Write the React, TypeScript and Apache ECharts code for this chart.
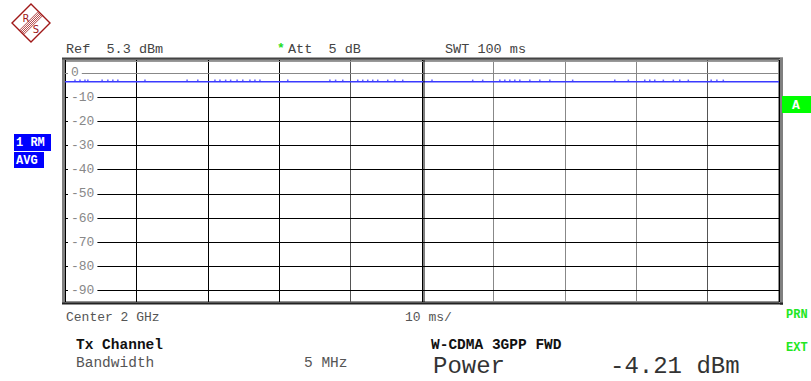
import React, { useEffect, useRef } from "react";
import * as echarts from "echarts";

const timeMs = [0, 10, 20, 30, 40, 50, 60, 70, 80, 90, 100];
const traceDbm = [-3.7, -3.7, -3.7, -3.7, -3.7, -3.7, -3.7, -3.7, -3.7, -3.7, -3.7];
const peakMs = [1.4, 2.1, 2.8, 3.2, 5.2, 6.0, 6.7, 7.4, 11.2, 17.1, 18.6, 21.0, 21.7, 22.5, 23.2, 24.1, 24.9, 25.9, 26.6, 27.3, 31.2, 37.1, 37.9, 38.9, 41.0, 41.7, 42.4, 43.1, 43.8, 45.2, 46.2, 47.3, 51.4, 57.1, 58.5, 60.9, 61.6, 62.3, 63.0, 63.7, 65.1, 66.5, 67.9, 71.1, 77.0, 78.9, 81.2, 81.9, 82.6, 83.8, 85.2, 86.1, 87.3, 90.5, 91.3, 92.2];
const peakDbm = -3.1;
const refLevel = 5.3;
const rangeDb = 100;
const yTicks = [0, -10, -20, -30, -40, -50, -60, -70, -80, -90];

const MONO = "'Liberation Mono', 'DejaVu Sans Mono', monospace";
const LOGO = "#a01818";

export default function App() {
  const ref = useRef<HTMLDivElement>(null);
  useEffect(() => {
    document.body.style.margin = "0";
    const chart = echarts.init(ref.current!, null, { renderer: "svg" });
    const gl = 65, gt = 60, gw = 714, gh = 242;
    const txt = (text: string, x: number, y: number, size: number, fill: string, weight = "normal", va = "middle") => ({
      type: "text",
      x, y,
      z: 20,
      style: { text, fill, font: `${weight} ${size}px ${MONO}`, textVerticalAlign: va },
    });
    const box = (x: number, y: number, w: number, h: number, fill: string) => ({
      type: "rect", z: 20, shape: { x, y, width: w, height: h }, style: { fill },
    });
    // logo stripes: band parallel to the upper-left edge, through the centre
    const stripes = [-3, -1.5, 0, 1.5, 3].map((o) => ({
      type: "line", z: 20,
      shape: { x1: 21.5 + o * 0.707, y1: 32.5 + o * 0.707, x2: 40.5 + o * 0.707, y2: 13.5 + o * 0.707 },
      style: { stroke: LOGO, lineWidth: 0.8 },
    }));
    chart.setOption({
      animation: false,
      backgroundColor: "#fff",
      grid: { left: gl, top: gt, width: gw, height: gh, show: true, borderColor: "#222", borderWidth: 1 },
      xAxis: {
        type: "value", min: 0, max: 100, interval: 10,
        axisLine: { show: false }, axisTick: { show: false }, axisLabel: { show: false },
        splitLine: {
          show: true,
          lineStyle: { width: 1, color: ["#000", "#000", "#000", "#000", "#555", "#000", "#888", "#888", "#888", "#555", "#000"] },
        },
      },
      yAxis: [
        {
          type: "value", min: refLevel - rangeDb, max: refLevel, position: "left", z: 0,
          axisLine: { show: false }, axisTick: { show: false }, axisLabel: { show: false },
          splitLine: { show: false },
        },
        {
          type: "value", min: refLevel - rangeDb, max: refLevel, position: "left", z: 5,
          splitNumber: 10, minInterval: 10, maxInterval: 10,
          axisLine: { show: false }, axisTick: { show: false }, splitLine: { show: false },
          axisLabel: {
            inside: true, margin: 3, showMinLabel: false, showMaxLabel: false, hideOverlap: false,
            color: "#888", fontSize: 13, fontFamily: MONO, backgroundColor: "#fff", padding: [0, 3, 0, 3],
            formatter: (v: number) => (Math.abs(v % 10) < 1e-6 ? String(Math.round(v)) : ""),
          },
        },
      ],
      series: [
        {
          type: "line", yAxisIndex: 0, symbol: "none", z: 1,
          data: [],
          markLine: {
            silent: true, symbol: "none", label: { show: false },
            data: yTicks.map((v) => ({ yAxis: v, lineStyle: { color: v === 0 ? "#888" : "#000", width: 1, type: "solid" } })),
          },
        },
        {
          type: "line", yAxisIndex: 0, symbol: "none", z: 6,
          lineStyle: { color: "#3a3aff", width: 1.5 },
          data: timeMs.map((t, i) => [t, traceDbm[i]]),
        },
        {
          type: "scatter", yAxisIndex: 0, symbol: "rect", symbolSize: [1.5, 1.5], z: 6,
          itemStyle: { color: "#3a3aff" },
          data: peakMs.map((t) => [t, peakDbm]),
        },
      ],
      graphic: [
        // frame decorations
        { type: "line", z: 10, shape: { x1: gl - 1.5, y1: gt - 2, x2: gl - 1.5, y2: gt + gh + 2 }, style: { stroke: "#808080", lineWidth: 3 } },
        { type: "line", z: 10, shape: { x1: gl - 3, y1: gt - 1.5, x2: gl + gw + 4, y2: gt - 1.5 }, style: { stroke: "#444", lineWidth: 2 } },
        { type: "line", z: 10, shape: { x1: gl + 1, y1: gt + 1.5, x2: gl + gw, y2: gt + 1.5 }, style: { stroke: "#999", lineWidth: 1 } },
        { type: "line", z: 10, shape: { x1: gl + gw + 2.5, y1: gt - 2, x2: gl + gw + 2.5, y2: gt + gh + 3 }, style: { stroke: "#808080", lineWidth: 3 } },
        { type: "line", z: 10, shape: { x1: gl - 3, y1: gt + gh + 1.5, x2: gl + gw + 4, y2: gt + gh + 1.5 }, style: { stroke: "#222", lineWidth: 2 } },
        { type: "line", z: 10, shape: { x1: gl + gw / 2 + 2, y1: gt, x2: gl + gw / 2 + 2, y2: gt + gh }, style: { stroke: "#000", lineWidth: 1 } },
        // R&S logo
        { type: "polygon", z: 20, shape: { points: [[12, 23], [31, 4], [50, 23], [31, 42]] }, style: { fill: "none", stroke: LOGO, lineWidth: 1.4 } },
        ...stripes,
        { type: "text", z: 21, x: 26, y: 18, style: { text: "R", fill: LOGO, font: "10px 'DejaVu Sans'", textAlign: "center", textVerticalAlign: "middle" } },
        { type: "text", z: 21, x: 36, y: 29, style: { text: "S", fill: LOGO, font: "10px 'DejaVu Sans'", textAlign: "center", textVerticalAlign: "middle" } },
        // header
        txt("Ref  5.3 dBm", 66, 49, 13.5, "#444"),
        { type: "text", z: 20, x: 277, y: 48, style: { text: "*", fill: "#22dd22", font: `bold 13px ${MONO}`, textVerticalAlign: "middle" } },
        txt("Att  5 dB", 288, 49, 13.5, "#444"),
        txt("SWT 100 ms", 445, 49, 13.5, "#444"),
        // side labels
        box(14, 134, 37, 17, "#0000ff"),
        txt("1 RM", 16, 143, 12, "#fff", "bold"),
        box(14, 152, 30, 16, "#0000ff"),
        txt("AVG", 16, 160.5, 12, "#fff", "bold"),
        box(782, 96, 29, 17, "#00ff00"),
        txt("A", 792, 105, 13, "#fff", "bold"),
        // footer
        txt("Center 2 GHz", 66, 317, 13, "#555"),
        txt("10 ms/", 405, 317, 13, "#555"),
        txt("PRN", 786, 315, 12, "#22e622", "bold"),
        txt("EXT", 786, 348, 12, "#22e622", "bold"),
        txt("Tx Channel", 76, 345, 14.5, "#111", "bold"),
        txt("Bandwidth", 76, 363, 14.5, "#555"),
        txt("5 MHz", 304, 363, 14.5, "#555"),
        txt("W-CDMA 3GPP FWD", 431, 345, 14.5, "#111", "bold"),
        txt("Power", 433, 378, 24, "#333", "normal", "bottom"),
        txt("-4.21 dBm", 610, 378, 24, "#333", "normal", "bottom"),
      ],
    });
    return () => chart.dispose();
  }, []);
  return <div ref={ref} style={{ width: 811, height: 381 }} />;
}
